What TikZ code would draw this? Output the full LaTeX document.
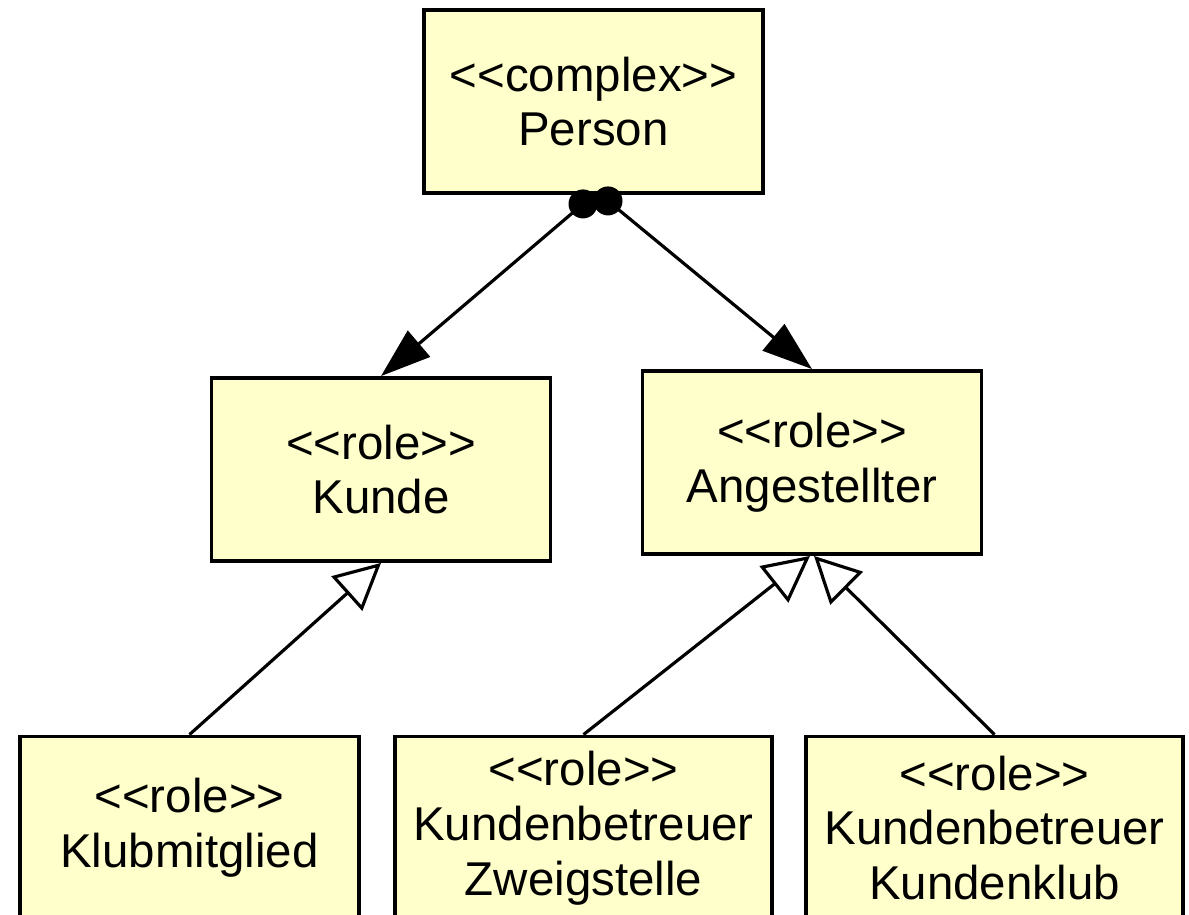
\documentclass[tikz,border=0pt]{standalone}
\usepackage{fontspec}
\setmainfont{Liberation Sans}
\usetikzlibrary{arrows.meta, positioning}

\definecolor{umlyellow}{HTML}{FFFFCC}
\newcommand{\stype}[1]{<\kern0pt<#1>\kern0pt>}

\begin{document}
\begin{tikzpicture}[
	rolebox/.style = {draw, rectangle, fill = umlyellow, line width = 1.1pt, align = center, minimum width = 3.39cm, minimum height = 1.83cm, inner sep = 0pt, font = \fontsize{13.5}{15.6}\selectfont},
	assoc/.style = {line width = 0.9pt, -{Triangle[length = 0.5cm, width = 0.34cm]}},
	gen/.style = {line width = 0.9pt, -{Triangle[open, fill = white, length = 0.46cm, width = 0.46cm]}}
]
	\useasboundingbox (0, 0) rectangle (11.89, 9.14);

	\node[rolebox] (person) at (5.935, 8.125){\stype{complex}\\Person};
	\node[rolebox] (kunde) at (3.81, 4.445){\stype{role}\\Kunde};
	\node[rolebox] (angest) at (8.12, 4.515){\stype{role}\\Angestellter};

	\node[rolebox] (klub) at (1.895, 0.86){\stype{role}\\Klubmitglied};
	\node[rolebox, minimum width = 3.77cm] (zweig) at (5.835, 0.86){\stype{role}\\Kundenbetreuer\\Zweigstelle};
	\node[rolebox, minimum width = 3.77cm] (kklub) at (9.945, 0.86){\stype{role}\\Kundenbetreuer\\Kundenklub};

	\coordinate (pk) at ([xshift = -0.105cm, yshift = -0.09cm]person.south);
	\coordinate (pa) at ([xshift = 0.145cm, yshift = -0.06cm]person.south);

	\draw[assoc] (pk) -- (kunde.north);
	\draw[assoc] (pa) -- (angest.north);
	\fill (pk) circle (0.145);
	\fill (pa) circle (0.145);

	\draw[gen] (klub.north) -- (kunde.south);
	\draw[gen] (zweig.north) -- ([xshift = -0.02cm]angest.south);
	\draw[gen] (kklub.north) -- ([xshift = 0.02cm]angest.south);
\end{tikzpicture}
\end{document}
